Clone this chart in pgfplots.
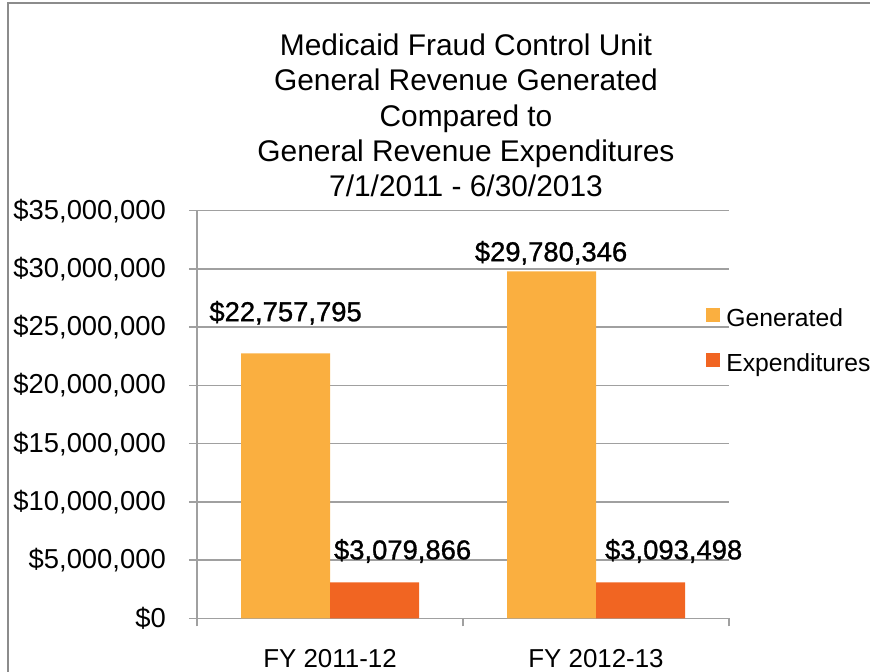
\documentclass[border=0pt]{standalone}
\usepackage{pgfplots}
\pgfplotsset{compat=1.18}
\usepackage{fontspec}
\setmainfont{Liberation Sans}
\newfontfamily\labelfont[FakeBold=1]{Liberation Sans}
\definecolor{gen}{RGB}{250,175,64}
\definecolor{expd}{RGB}{241,101,34}
\definecolor{gridc}{RGB}{160,160,160}
\definecolor{framec}{RGB}{140,140,140}
\begin{document}
\begin{tikzpicture}
\useasboundingbox (0,0) rectangle (870bp,672bp);
\draw[framec, line width=2bp] (8bp,-20bp) rectangle (900bp,669bp);
\node[align=center, inner sep=0pt, anchor=base, font=\fontsize{30}{35.5}\selectfont] at (466bp,475bp)
  {Medicaid Fraud Control Unit\\General Revenue Generated\\Compared to\\General Revenue Expenditures\\7/1/2011 - 6/30/2013};
\begin{axis}[
  at={(197bp,53.7bp)}, anchor=south west,
  scale only axis, width=532bp, height=407.6bp,
  xmin=-0.5, xmax=1.5, ymin=0, ymax=35000000,
  ybar=0pt, bar width=89bp,
  axis x line*=bottom, axis y line*=left,
  axis line style={gridc, line width=1.5bp, -},
  ymajorgrids, grid style={gridc, line width=1.5bp},
  ytick={0,5000000,10000000,15000000,20000000,25000000,30000000,35000000},
  yticklabels={{\$0},{\$5,000,000},{\$10,000,000},{\$15,000,000},{\$20,000,000},{\$25,000,000},{\$30,000,000},{\$35,000,000}},
  scaled y ticks=false,
  xtick={-0.5,0.5,1.5}, xticklabels={},
  extra x ticks={0,1}, extra x tick labels={FY 2011-12,FY 2012-13},
  extra x tick style={major tick length=0pt, xticklabel style={anchor=north, yshift=-31bp, font=\fontsize{26}{30}\selectfont}},
  tick align=outside, major tick length=8bp,
  tick style={gridc, line width=1.5bp},
  tick label style={font=\fontsize{27.5}{32}\selectfont, inner sep=0pt},
  yticklabel style={anchor=east, xshift=-23bp},
  clip=false,
  legend cell align=left,
  legend style={at={(0.957,0.762)}, anchor=north west, draw=none, fill=none, inner sep=0pt,
    row sep=20bp, font=\fontsize{24.8}{29}\selectfont,
    nodes={inner sep=0pt, text height=18bp, text depth=6bp},
    /tikz/every odd column/.append style={column sep=6bp}},
]
\addplot[fill=gen, draw=none, legend image code/.code={\fill[gen] (0bp,-1bp) rectangle (14bp,13bp);}] coordinates {(0,22757795) (1,29780346)};
\addplot[fill=expd, draw=none, legend image code/.code={\fill[expd] (0bp,-1bp) rectangle (14bp,13bp);}] coordinates {(0,3079866) (1,3093498)};
\legend{Generated,Expenditures}
\node[font=\labelfont\fontsize{27.5}{32}\selectfont] at (axis cs:-0.167,26230000) {\$22,757,795};
\node[font=\labelfont\fontsize{27.5}{32}\selectfont] at (axis cs:0.831,31380000) {\$29,780,346};
\node[font=\labelfont\fontsize{27.5}{32}\selectfont] at (axis cs:0.273,5780000) {\$3,079,866};
\node[font=\labelfont\fontsize{27.5}{32}\selectfont] at (axis cs:1.292,5780000) {\$3,093,498};
\end{axis}
\end{tikzpicture}
\end{document}
